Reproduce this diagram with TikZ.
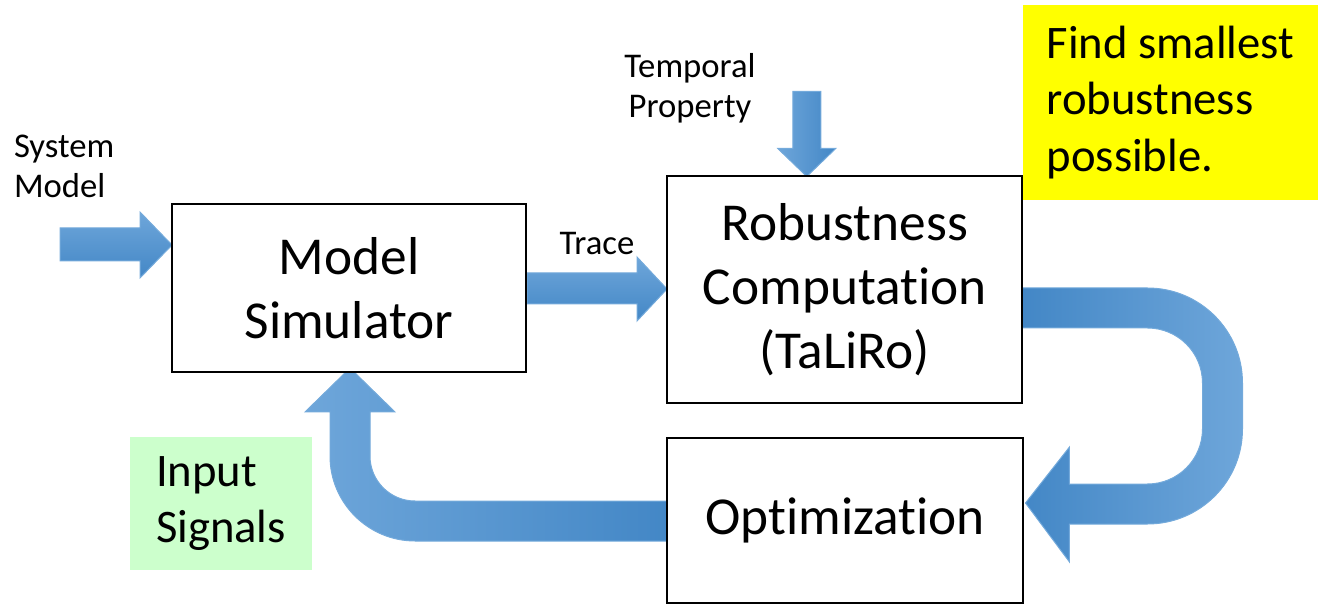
\documentclass[tikz,border=0pt]{standalone}
\usepackage{fontspec}
\setmainfont{Carlito}[Ligatures=NoCommon]
\usetikzlibrary{calc,backgrounds}
\definecolor{adark}{HTML}{4387C6}
\definecolor{amid}{HTML}{5B9BD5}
\definecolor{alight}{HTML}{6EA6DA}
\definecolor{ayellow}{HTML}{FFFF00}
\definecolor{agreen}{HTML}{CCFFCC}
\begin{document}
\begin{tikzpicture}[x=0.75pt,y=-0.75pt,
  box/.style={draw=black,line width=1.5pt,fill=white,inner sep=0pt,outer sep=0pt,
    align=center,font=\fontsize{40}{48}\selectfont},
  note/.style={inner sep=0pt,outer sep=0pt,align=left,font=\fontsize{35}{42.5}\selectfont},
  lbl/.style={inner sep=0pt,outer sep=0pt,font=\fontsize{26}{30}\selectfont},
  barrow/.style={draw=amid!85!white,line width=0.75pt,line join=miter},
]
\useasboundingbox (0,0) rectangle (1320,605);

% boxes
\node[box,minimum width=265.5pt,minimum height=126pt] (ms) at (349,288) {Model\\Simulator};
\node[box,minimum width=266.6pt,minimum height=170.25pt] (rc) at (844.75,290) {Robustness\\Computation\\(TaLiRo)};
\node[box,minimum width=267pt,minimum height=123.75pt] (opt) at (845,520.5) {\raisebox{-3pt}{Optimization}};

% notes
\node[note,fill=ayellow,minimum width=221.25pt,minimum height=146.25pt] (goal) at (1170.5,102.5)
      {Find smallest\\robustness\\possible.};
\node[note,fill=agreen,minimum width=136.5pt,minimum height=99.75pt] (inp) at (221,503.5)
      {Input\\Signals};

% labels
\node[lbl,anchor=west,align=left] (sm) at (14,166) {System\\Model};
\node[lbl,align=center] (tp) at (690,88) {Temporal\\Property};
\node[lbl] (tr) at (597,244) {Trace};

\begin{pgfonlayer}{background}
% System Model -> Model Simulator
\path[barrow,top color=alight,bottom color=adark]
  ($(ms.north west)+(0,41)$) -- ++(-32,-33) -- ++(0,16) -- ++(-80,0)
  -- ++(0,33) -- ++(80,0) -- ++(0,17) -- cycle;
% Trace: Model Simulator -> Robustness
\path[barrow,top color=alight,bottom color=adark]
  ($(rc.west)+(0,-1)$) -- ++(-30,-32) -- ++(0,16) -- ++(-110,0)
  -- ++(0,31) -- ++(110,0) -- ++(0,17) -- cycle;
% Temporal Property -> Robustness
\path[barrow,left color=alight,right color=adark]
  ($(rc.north)+(-38,0)$) -- ++(-29,-28) -- ++(15,0) -- ++(0,-57)
  -- ++(28,0) -- ++(0,57) -- ++(15,0) -- cycle;
% Robustness -> Optimization (U-turn)
\path[barrow,left color=adark,right color=alight]
  ($(rc.east)+(0,-2)$) -- ++(125,0)
  .. controls +(52.5,0) and +(0,-52.5) .. ++(95,95)
  -- ++(0,46)
  .. controls +(0,52.5) and +(52.5,0) .. ++(-95,95)
  -- ++(-78,0) -- ++(0,38) -- ++(-44,-59) -- ++(44,-56) -- ++(0,37)
  -- ++(78,0)
  .. controls +(30.4,0) and +(0,30.4) .. ++(55,-55)
  -- ++(0,-46)
  .. controls +(0,-30.4) and +(30.4,0) .. ++(-55,-55)
  -- ++(-125,0) -- cycle;
% Optimization -> Model Simulator (input signals)
\path[barrow,left color=alight,right color=adark]
  ($(opt.west)+(0,-19.5)$) -- ++(-252,0)
  .. controls +(-24.85,0) and +(0,24.85) .. ++(-45,-45)
  -- ++(0,-44) -- ++(25,0) -- ++(-45,-44) -- ++(-45,44) -- ++(25,0) -- ++(0,44)
  .. controls +(0,46.9) and +(-46.9,0) .. ++(85,85)
  -- ++(252,0) -- cycle;
\end{pgfonlayer}
\end{tikzpicture}
\end{document}
